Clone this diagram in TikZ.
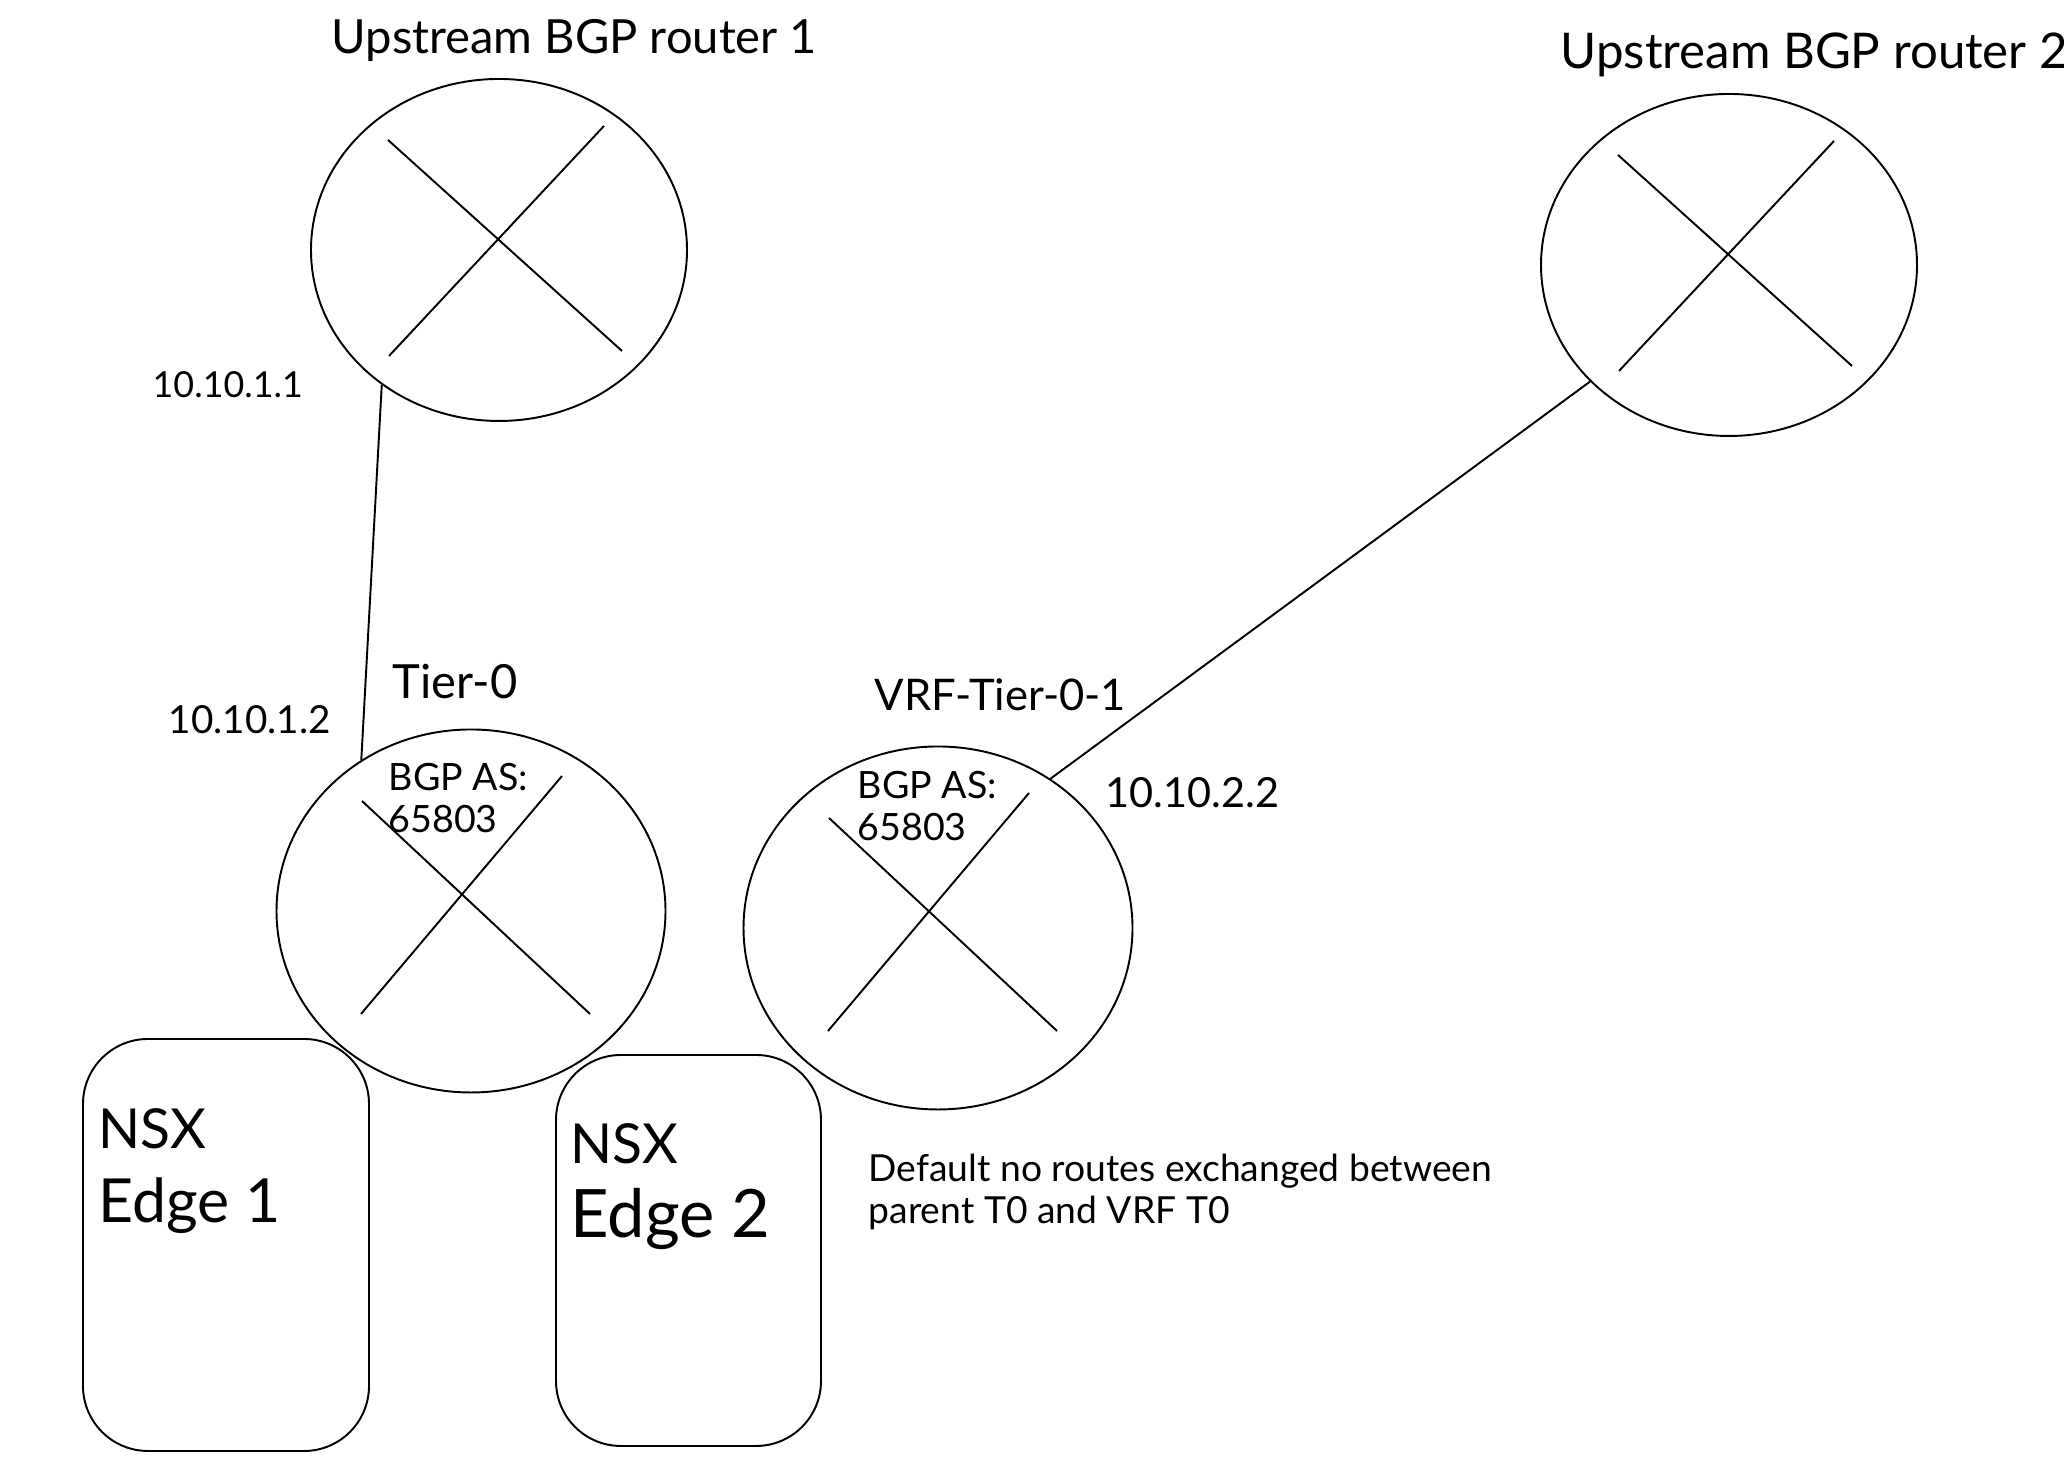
\documentclass[tikz,border=0pt]{standalone}
\usepackage{fontspec}
\setmainfont{Lato}
\usetikzlibrary{shapes, positioning, calc}
\tikzset{
  routernode/.style={draw, ellipse, line width=0.55pt, inner sep=0pt, minimum width=3.76cm, minimum height=3.42cm},
  tiernode/.style={draw, ellipse, line width=0.55pt, inner sep=0pt, minimum width=3.89cm, minimum height=3.63cm},
  edgebox/.style={draw, rounded corners=0.65cm, line width=0.55pt},
  wire/.style={line width=0.55pt},
  lbl/.style={inner sep=0pt, anchor=west, align=left, font=\fontsize{#1}{11.7}\selectfont},
  lbledge/.style={inner sep=0pt, anchor=west, align=left, font=\fontsize{#1}{21}\selectfont}
}
\begin{document}
\begin{tikzpicture}
  \useasboundingbox (0,0) rectangle (20.64,14.82);

  % Routers
  \node[routernode] (rtrone) at (4.99,12.32) {};
  \node[routernode] (rtrtwo) at (17.29,12.17) {};
  \node[tiernode] (tierzero) at (4.71,5.71) {};
  \node[tiernode] (vrfzero) at (9.38,5.54) {};

  % Crosses
  \foreach \rtr in {rtrone, rtrtwo} {
    \draw[wire] ($(\rtr)+(-1.11,1.10)$) -- ($(\rtr)+(1.23,-1.01)$);
    \draw[wire] ($(\rtr)+(1.05,1.24)$) -- ($(\rtr)+(-1.10,-1.06)$);
  }
  \foreach \rtr in {tierzero, vrfzero} {
    \draw[wire] ($(\rtr)+(-1.09,1.10)$) -- ($(\rtr)+(1.19,-1.03)$);
    \draw[wire] ($(\rtr)+(0.91,1.35)$) -- ($(\rtr)+(-1.10,-1.03)$);
  }

  % Links
  \draw[wire] (rtrone.229) -- (tierzero.126);
  \draw[wire] (rtrtwo.220) -- (vrfzero.53);

  % Edges
  \node[edgebox, minimum width=2.86cm, minimum height=4.12cm] (edgeone) at (2.26,2.37) {};
  \node[edgebox, minimum width=2.65cm, minimum height=3.91cm] (edgetwo) at (6.885,2.315) {};

  % Labels
  \node[lbl=13.4] (nameone) at (3.31,14.41) {Upstream BGP router 1};
  \node[lbl=14] (nametwo) at (15.60,14.27) {Upstream BGP router 2};
  \node[lbl=10.2] (ipone) at (1.52,10.97) {10.10.1.1};
  \node[lbl=11] (iptwo) at (1.68,7.62) {10.10.1.2};
  \node[lbl=11.8] (iptri) at (11.05,6.89) {10.10.2.2};
  \node[lbl=13.4] (tiername) at (3.92,8.00) {Tier-0};
  \node[lbl=12.4] (vrfname) at (8.74,7.87) {VRF-Tier-0-1};
  \node[lbl=10.7] (asone) at (3.88,6.84) {BGP AS:\\65803};
  \node[lbl=10.7] (astwo) at (8.57,6.76) {BGP AS:\\65803};
  \node[lbledge=17.3] (textone) at (0.98,3.11) {{\fontsize{15.7}{21}\selectfont NSX}\\Edge 1};
  \node[lbledge=19] (texttwo) at (5.70,2.95) {{\fontsize{15.7}{21}\selectfont NSX}\\Edge 2};
  \node[lbl=10.6] (note) at (8.68,2.90) {Default no routes exchanged between\\parent T0 and VRF T0};
\end{tikzpicture}
\end{document}
